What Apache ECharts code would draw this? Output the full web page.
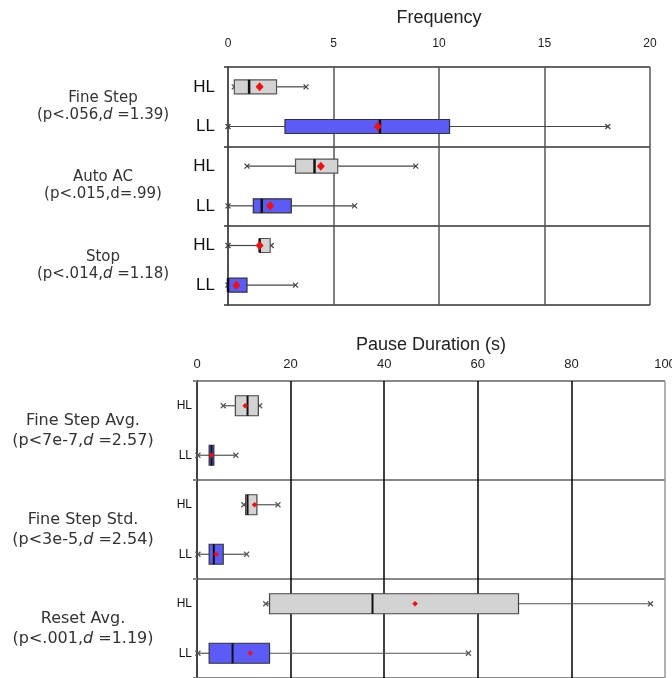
<!DOCTYPE html>
<html>
<head>
<meta charset="utf-8">
<script src="https://cdn.jsdelivr.net/npm/echarts@6/dist/echarts.min.js"></script>
<style>
html,body{margin:0;padding:0;background:#fff;}
#c{width:672px;height:678px;}
</style>
</head>
<body>
<div id="c"></div>
<script>
// ---- data ----
const levels = ['HL', 'LL'];

const freqGroups = ['Fine Step', 'Auto AC', 'Stop'];
const freqStats = [['(p<.056,', 'd', ' =1.39)', true], ['(p<.015,', 'd', '=.99)', false], ['(p<.014,', 'd', ' =1.18)', true]];
const freqTicks = [0, 5, 10, 15, 20];
const freqMin    = [0.3, 0.0, 0.9, 0.0, 0.0, 0.0];
const freqQ1     = [0.3, 2.7, 3.2, 1.2, 1.5, 0.0];
const freqMedian = [1.0, 7.2, 4.1, 1.6, 1.5, 0.0];
const freqQ3     = [2.3, 10.5, 5.2, 3.0, 2.0, 0.9];
const freqMax    = [3.7, 18.0, 8.9, 6.0, 2.05, 3.2];
const freqMean   = [1.5, 7.1, 4.4, 2.0, 1.5, 0.4];

const pauseGroups = ['Fine Step Avg.', 'Fine Step Std.', 'Reset Avg.'];
const pauseStats = [['(p<7e-7,', 'd', ' =2.57)', true], ['(p<3e-5,', 'd', ' =2.54)', true], ['(p<.001,', 'd', ' =1.19)', true]];
const pauseTicks = [0, 20, 40, 60, 80, 100];
const pauseMin    = [5.6, 0.2, 10.0, 0.2, 14.7, 0.2];
const pauseQ1     = [8.2, 2.6, 10.4, 2.6, 15.5, 2.6];
const pauseMedian = [10.8, 3.1, 10.8, 3.6, 37.5, 7.6];
const pauseQ3     = [13.1, 3.6, 12.8, 5.6, 68.7, 15.5];
const pauseMax    = [13.4, 8.3, 17.3, 10.6, 96.9, 58.0];
const pauseMean   = [10.3, 3.1, 12.3, 4.1, 46.6, 11.4];

// ---- helpers ----
const FONT = '"Liberation Sans", Arial, sans-serif';
const FONT2 = '"DejaVu Sans", "Liberation Sans", sans-serif';
const rows = g => g.flatMap(() => levels);
const build = (mn, q1, md, q3, mx, me) => mn.map((v, i) => [i, mn[i], q1[i], md[i], q3[i], mx[i], me[i]]);

function makeRender(cfg) {
  return function (params, api) {
    const cat = api.value(0);
    const c = v => api.coord([v, cat]);
    const pMin = c(api.value(1)), pQ1 = c(api.value(2)), pMd = c(api.value(3));
    const pQ3 = c(api.value(4)), pMx = c(api.value(5)), pMe = c(api.value(6));
    const y = pMin[1], h = cfg.boxH / 2;
    const isHL = cat % 2 === 0;
    const wl = {stroke: cfg.whisker, lineWidth: 1.2};
    const cap = (x) => [
      {type: 'line', shape: {x1: x - 2.5, y1: y - 2.5, x2: x + 2.5, y2: y + 2.5}, style: wl},
      {type: 'line', shape: {x1: x - 2.5, y1: y + 2.5, x2: x + 2.5, y2: y - 2.5}, style: wl}
    ];
    const mw = cfg.meanW, mh = cfg.meanH, mx = pMe[0];
    return {
      type: 'group',
      children: [
        {type: 'line', shape: {x1: pMin[0], y1: y, x2: pQ1[0], y2: y}, style: wl},
        {type: 'line', shape: {x1: pQ3[0], y1: y, x2: pMx[0], y2: y}, style: wl},
        ...cap(pMin[0]), ...cap(pMx[0]),
        {type: 'rect', shape: {x: pQ1[0], y: y - h, width: Math.max(pQ3[0] - pQ1[0], 0.5), height: cfg.boxH},
          style: {fill: isHL ? cfg.hlFill : cfg.llFill, stroke: isHL ? cfg.hlStroke : cfg.llStroke, lineWidth: 1.2}},
        {type: 'line', shape: {x1: pMd[0], y1: y - h, x2: pMd[0], y2: y + h}, style: {stroke: '#111', lineWidth: cfg.medW}},
        {type: 'polygon', shape: {points: [[mx, y - mh], [mx + mw, y], [mx, y + mh], [mx - mw, y]]},
          style: {fill: '#f01010', stroke: null}}
      ]
    };
  };
}

function groupFormatter(groups, stats) {
  return function (val, idx) {
    const s = stats[idx];
    return '{n|' + groups[idx] + '}\n{p|' + s[0] + '}{' + (s[3] ? 'di' : 'p') + '|' + s[1] + '}{p|' + s[2] + '}';
  };
}

const freqData = build(freqMin, freqQ1, freqMedian, freqQ3, freqMax, freqMean);
const pauseData = build(pauseMin, pauseQ1, pauseMedian, pauseQ3, pauseMax, pauseMean);

const option = {
  animation: false,
  backgroundColor: '#fff',
  grid: [
    {left: 228, top: 67, width: 422, height: 238, containLabel: false, outerBoundsMode: 'none'},
    {left: 197, top: 381, width: 468, height: 297, containLabel: false, outerBoundsMode: 'none'}
  ],
  xAxis: [
    {
      gridIndex: 0, type: 'value', position: 'top', min: 0, max: 20, interval: 5,
      name: 'Frequency', nameLocation: 'middle', nameGap: 40,
      nameTextStyle: {fontFamily: FONT, fontSize: 18, color: '#222'},
      axisLine: {show: false}, axisTick: {show: false},
      axisLabel: {fontFamily: FONT, fontSize: 12, color: '#222', margin: 17},
      splitLine: {show: true, lineStyle: {color: '#555', width: 1.5}}
    },
    {
      gridIndex: 1, type: 'value', position: 'top', min: 0, max: 100, interval: 20,
      name: 'Pause Duration (s)', nameLocation: 'middle', nameGap: 27,
      nameTextStyle: {fontFamily: FONT, fontSize: 18, color: '#222'},
      axisLine: {show: false}, axisTick: {show: false},
      axisLabel: {fontFamily: FONT, fontSize: 13, color: '#222', margin: 10},
      splitLine: {show: true, lineStyle: {color: ['#444', '#000', '#000', '#000', '#000', '#999'], width: 1.5}}
    }
  ],
  yAxis: [
    // 0: top separators
    {gridIndex: 0, type: 'value', position: 'left', min: 0, max: 6, interval: 2, inverse: true,
      axisLine: {show: true, onZero: false, lineStyle: {color: '#444', width: 1.5}},
      axisTick: {show: true, length: 4, lineStyle: {color: '#333', width: 1.5}},
      axisLabel: {show: false},
      splitLine: {show: true, lineStyle: {color: '#333', width: 1.5}}},
    // 1: top rows
    {gridIndex: 0, type: 'category', position: 'left', data: rows(freqGroups), inverse: true,
      axisLine: {show: false}, axisTick: {show: false}, splitLine: {show: false},
      axisLabel: {fontFamily: FONT, fontSize: 17, color: '#111', margin: 13}},
    // 2: top groups
    {gridIndex: 0, type: 'category', position: 'left', data: freqGroups, inverse: true,
      axisLine: {show: false}, axisTick: {show: false}, splitLine: {show: false},
      axisLabel: {margin: 125, align: 'center', formatter: groupFormatter(freqGroups, freqStats),
        rich: {
          n: {fontFamily: FONT2, fontSize: 15, color: '#333', lineHeight: 17, align: 'center'},
          p: {fontFamily: FONT2, fontSize: 15, color: '#333', lineHeight: 17},
          di: {fontFamily: FONT2, fontSize: 15, color: '#333', lineHeight: 17, fontStyle: 'italic'}
        }}},
    // 3: bottom separators
    {gridIndex: 1, type: 'value', position: 'left', min: 0, max: 6, interval: 2, inverse: true,
      axisLine: {show: true, onZero: false, lineStyle: {color: '#333', width: 1.5}},
      axisTick: {show: true, length: 4, lineStyle: {color: '#888', width: 2}},
      axisLabel: {show: false},
      splitLine: {show: true, lineStyle: {color: '#888', width: 2}}},
    // 4: bottom rows
    {gridIndex: 1, type: 'category', position: 'left', data: rows(pauseGroups), inverse: true,
      axisLine: {show: false}, axisTick: {show: false}, splitLine: {show: false},
      axisLabel: {fontFamily: FONT, fontSize: 12, color: '#111', margin: 5}},
    // 5: bottom groups
    {gridIndex: 1, type: 'category', position: 'left', data: pauseGroups, inverse: true,
      axisLine: {show: false}, axisTick: {show: false}, splitLine: {show: false},
      axisLabel: {margin: 114, align: 'center', formatter: groupFormatter(pauseGroups, pauseStats),
        rich: {
          n: {fontFamily: FONT2, fontSize: 16, color: '#333', lineHeight: 20, align: 'center'},
          p: {fontFamily: FONT2, fontSize: 16, color: '#333', lineHeight: 20},
          di: {fontFamily: FONT2, fontSize: 16, color: '#333', lineHeight: 20, fontStyle: 'italic'}
        }}}
  ],
  series: [
    {type: 'custom', xAxisIndex: 0, yAxisIndex: 1, data: freqData, encode: {x: [1, 2, 3, 4, 5, 6], y: 0},
      renderItem: makeRender({boxH: 14, hlFill: '#d3d3d3', hlStroke: '#555', llFill: '#5b5bf7', llStroke: '#333',
        whisker: '#444', medW: 2.5, meanW: 4, meanH: 4.5})},
    {type: 'custom', xAxisIndex: 1, yAxisIndex: 4, data: pauseData, encode: {x: [1, 2, 3, 4, 5, 6], y: 0},
      renderItem: makeRender({boxH: 20, hlFill: '#d3d3d3', hlStroke: '#444', llFill: '#5b5bf7', llStroke: '#333',
        whisker: '#555', medW: 2, meanW: 2.8, meanH: 2.8})}
  ]
};

const chart = echarts.init(document.getElementById('c'), null, {renderer: 'canvas'});
chart.setOption(option);
</script>
</body>
</html>
